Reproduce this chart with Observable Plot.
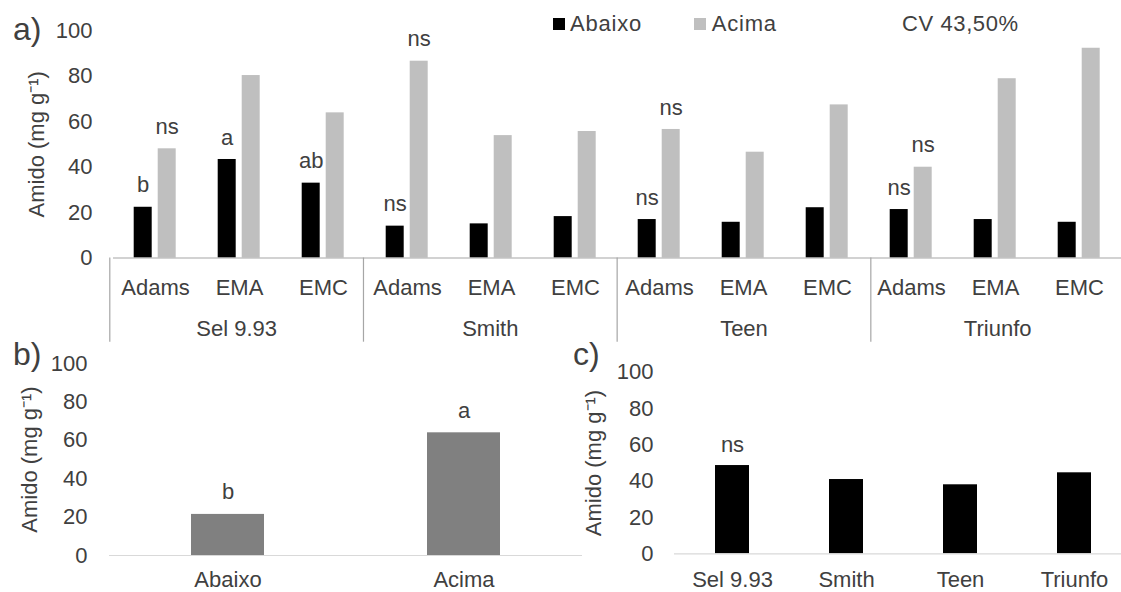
<!DOCTYPE html>
<html>
<head>
<meta charset="utf-8">
<script src="https://cdn.jsdelivr.net/npm/d3@7"></script>
<script src="https://cdn.jsdelivr.net/npm/@observablehq/plot@0.6"></script>
<style>
  body { margin: 0; background: #fff; overflow: hidden; }
  #fig { position: relative; width: 1121px; height: 592px; overflow: hidden; background: #fff;
         font-family: "Liberation Sans", Arial, sans-serif; color: #404040; }
  #fig svg { position: absolute; }
  .tag { position: absolute; font-size: 32px; line-height: 32px; white-space: nowrap; }
  .leg { position: absolute; top: 13px; font-size: 22px; line-height: 22px; white-space: nowrap; }
  .sw { position: absolute; top: 18px; width: 12px; height: 12px; }
</style>
</head>
<body>
<div id="fig"></div>
<script>
// Starch content (mg g-1) by cultivar, rootstock and canopy position
const groups = ["Sel 9.93", "Smith", "Teen", "Triunfo"];
const rootstocks = ["Adams", "EMA", "EMC"];
const positions = ["Abaixo", "Acima"];

// panel a: one value per cultivar x rootstock, in groups/rootstocks order
const abaixo = [22.3, 43.3, 32.9, 14.0, 15.0, 18.2, 16.9, 15.7, 22.1, 21.3, 16.9, 15.7];
const acima  = [48.0, 80.2, 63.8, 86.5, 53.8, 55.6, 56.5, 46.5, 67.3, 39.9, 78.8, 92.2];
const notesAbaixo = ["b", "a", "ab", "ns", "", "", "ns", "", "", "ns", "", ""];
const notesAcima  = ["ns", "", "", "ns", "", "", "ns", "", "", "ns", "", ""];

// panel b: means by canopy position
const meanByPosition = [21.4, 63.9];
const notesPosition = ["b", "a"];

// panel c: means by cultivar
const meanByGroup = [48.6, 40.9, 38.0, 44.6];
const notesGroup = ["ns", "", "", ""];

const yTicks = [0, 20, 40, 60, 80, 100];
const yTitle = "Amido (mg g\u207B\u00B9)";
const cvText = "CV 43,50%";

const colors = {Abaixo: "#000000", Acima: "#bfbfbf"};

const style = {
  fontFamily: '"Liberation Sans", Arial, sans-serif',
  fontSize: "22px",
  color: "#404040",
  background: "transparent",
  overflow: "visible"
};

const fig = document.getElementById("fig");
function place(node, left, top) {
  node.style.left = left + "px";
  node.style.top = top + "px";
  fig.appendChild(node);
}

// rotated y-axis title, centred on the left side of the frame
function yTitleMark(dx, extra = {}) {
  return Plot.text([yTitle], {
    frameAnchor: "left", textAnchor: "middle", lineAnchor: "middle",
    rotate: -90, dx, text: d => d, ...extra
  });
}

// ---------- panel a ----------
const keys = groups.flatMap(g => rootstocks.map(r => g + "|" + r));
const rowsA = keys.flatMap((key, k) => positions.map((p, pi) => ({
  key,
  position: p,
  value: pi === 0 ? abaixo[k] : acima[k],
  note: pi === 0 ? notesAbaixo[k] : notesAcima[k]
})));

const groupStart = 109.3, groupEnd = 1124;

const plotA = Plot.plot({
  width: 1121, height: 345,
  marginTop: 30, marginBottom: 87.5, marginLeft: groupStart, marginRight: 0,
  style,
  fx: {domain: keys, range: [groupStart, groupEnd], padding: 0, axis: "bottom", label: null,
       tickSize: 0, tickPadding: 21, tickFormat: k => k.split("|")[1]},
  x: {domain: positions, paddingInner: 0.235, paddingOuter: 0.865, axis: null},
  y: {domain: [0, 100], ticks: yTicks, tickSize: 0, tickPadding: 21, label: null},
  color: {domain: positions, range: positions.map(p => colors[p])},
  marks: [
    Plot.barY(rowsA, {fx: "key", x: "position", y: "value", fill: "position"}),
    Plot.ruleY([0], {stroke: "#a6a6a6", strokeWidth: 1.2}),
    Plot.text(rowsA, {fx: "key", x: "position", y: "value", text: "note", dy: -22}),
    yTitleMark(-77, {fx: () => keys[0]})
  ]
});
place(plotA, 0, 0);

// group separators and cultivar names under the rootstock labels
const groupIndex = groups.map((g, i) => i);
const plotGroups = Plot.plot({
  width: 1121, height: 345,
  marginTop: 257.5, marginBottom: 3.3, marginLeft: 0, marginRight: 0,
  style,
  x: {type: "linear", domain: [0, groups.length], range: [groupStart, groupEnd], axis: null},
  y: {axis: null},
  marks: [
    Plot.ruleX(groupIndex, {x: d => d, stroke: "#a6a6a6", strokeWidth: 1.2}),
    Plot.text(groups, {x: (d, i) => i + 0.5, text: d => d, frameAnchor: "bottom",
                       lineAnchor: "middle", dy: -13})
  ]
});
place(plotGroups, 0, 0);

// legend and CV
positions.forEach((p, i) => {
  const sw = document.createElement("div");
  sw.className = "sw";
  sw.style.background = colors[p];
  place(sw, [553, 694][i], 18);
  const t = document.createElement("div");
  t.className = "leg";
  t.textContent = p;
  t.style.letterSpacing = "0.8px";
  place(t, [570, 711.7][i], 13);
});
const cv = document.createElement("div");
cv.className = "leg";
cv.textContent = cvText;
cv.style.letterSpacing = "0.6px";
place(cv, 902, 13);

// ---------- panel b ----------
const rowsB = positions.map((p, i) => ({position: p, value: meanByPosition[i], note: notesPosition[i]}));
const plotB = Plot.plot({
  width: 582, height: 247,
  marginTop: 18, marginBottom: 37, marginLeft: 109, marginRight: 0,
  style,
  x: {domain: positions, paddingInner: 0.69, paddingOuter: 0.345, tickSize: 0, tickPadding: 16, label: null},
  y: {domain: [0, 100], ticks: yTicks, tickSize: 0, tickPadding: 22, label: null},
  marks: [
    Plot.barY(rowsB, {x: "position", y: "value", fill: "#808080"}),
    Plot.ruleY([0], {stroke: "#d9d9d9", strokeWidth: 1.2}),
    Plot.text(rowsB, {x: "position", y: "value", text: "note", dy: -22}),
    yTitleMark(-80)
  ]
});
place(plotB, 0, 345);

// ---------- panel c ----------
const rowsC = groups.map((g, i) => ({group: g, value: meanByGroup[i], note: notesGroup[i]}));
const plotC = Plot.plot({
  width: 561, height: 247,
  marginTop: 26.7, marginBottom: 38.7, marginLeft: 114, marginRight: 0,
  style,
  x: {domain: groups, range: [114, 572], paddingInner: 0.7, paddingOuter: 0.35,
      tickSize: 0, tickPadding: 18, label: null},
  y: {domain: [0, 100], ticks: yTicks, tickSize: 0, tickPadding: 21, label: null},
  marks: [
    Plot.barY(rowsC, {x: "group", y: "value", fill: "#000000"}),
    Plot.ruleY([0], {stroke: "#d9d9d9", strokeWidth: 1.2}),
    Plot.text(rowsC, {x: "group", y: "value", text: "note", dy: -21}),
    yTitleMark(-81)
  ]
});
place(plotC, 560, 345);

// panel tags
[["a)", 13, 13], ["b)", 13, 338], ["c)", 573, 338]].forEach(([s, x, y]) => {
  const t = document.createElement("div");
  t.className = "tag";
  t.textContent = s;
  place(t, x, y);
});
</script>
</body>
</html>
